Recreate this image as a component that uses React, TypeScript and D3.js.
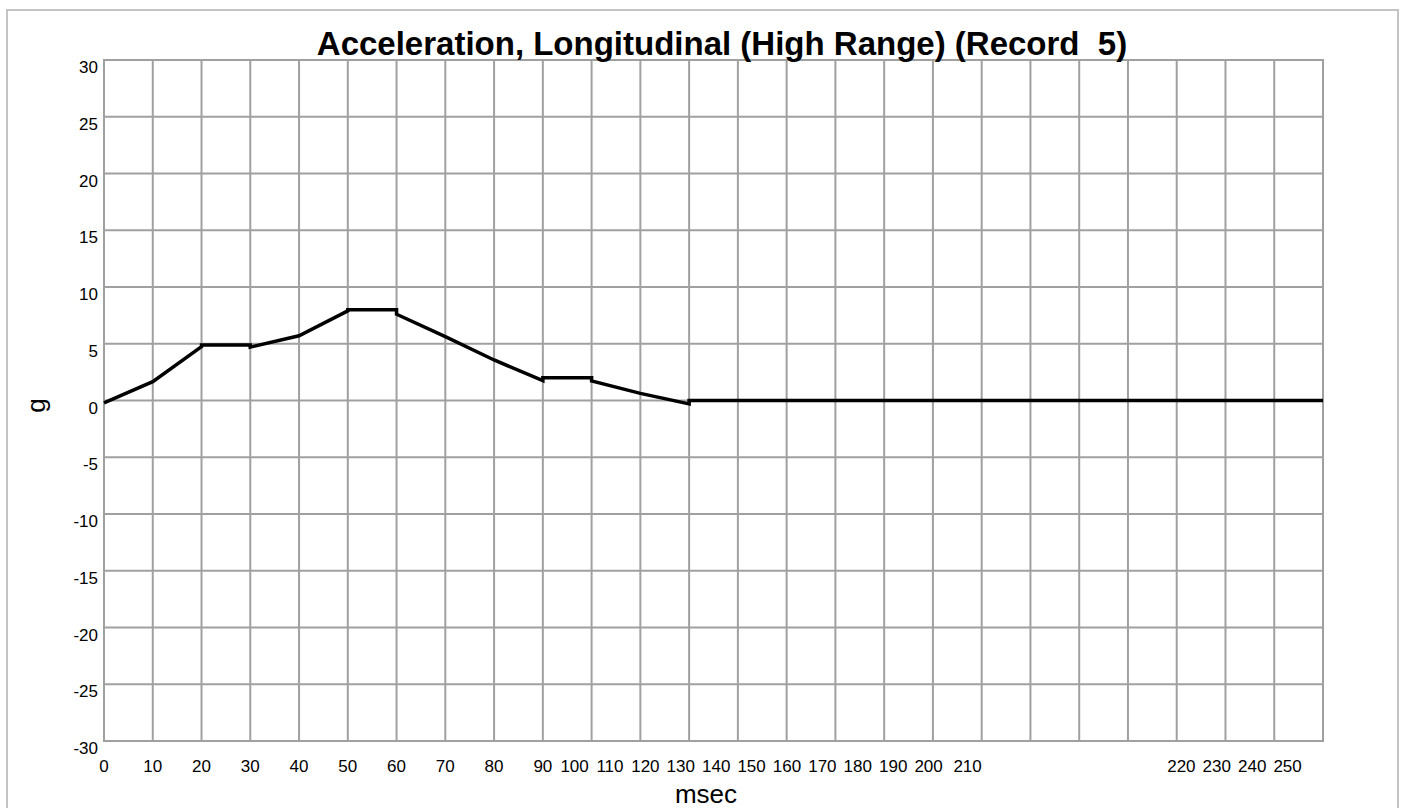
import React from "react";
import * as d3 from "d3";

// Longitudinal acceleration samples (msec, g). Repeated times mark the small
// level jumps where a flat hold meets the neighbouring ramp.
const timeMs = [0, 10, 20, 20, 30, 30, 40, 50, 50, 60, 60, 70, 80, 90, 90, 100, 100, 110, 120, 120, 250];
const accelG = [-0.2, 1.66, 4.75, 4.9, 4.9, 4.7, 5.7, 7.9, 8.0, 8.0, 7.6, 5.63, 3.57, 1.75, 2.0, 2.0, 1.72, 0.63, -0.3, 0, 0];

const xTickValues = d3.range(0, 251, 10);
const xTickLabels = xTickValues.map(String);
const yTickValues = d3.range(-30, 31, 5);
const yTickLabels = yTickValues.map(String);

const TITLE = "Acceleration, Longitudinal (High Range) (Record  5)";
const X_TITLE = "msec";
const Y_TITLE = "g";

const W = 1407;
const H = 808;
const plot = { left: 104, right: 1323, top: 60, bottom: 741 };
const FONT = "'Liberation Sans', Arial, Helvetica, sans-serif";
const GRID = "#a0a0a0";
const TICK_FONT = 17;

// Label pitch when tick labels are laid out as a packed run of text.
const PITCH = 35.4;

export default function App() {
  const x = d3.scaleLinear().domain([0, 250]).range([plot.left, plot.right]);
  const y = d3.scaleLinear().domain([-30, 30]).range([plot.bottom, plot.top]);

  const pts: [number, number][] = timeMs.map((t, i) => [t, accelG[i]]);
  const line = d3
    .line<[number, number]>()
    .x((d) => x(d[0]))
    .y((d) => y(d[1]));

  // x tick label placement: the first labels sit under their grid lines,
  // 100..210 follow "90" as a packed run, and the last four end near the right edge.
  const labelX = (i: number) => {
    if (i <= 9) return x(xTickValues[i]);
    if (i <= 21) {
      const base = x(90) + 31.75 + (i - 10) * PITCH;
      return i === 21 ? base + 3.6 : base;
    }
    return x(250) - (26 - i) * PITCH;
  };

  return (
    <svg
      width={W}
      height={H}
      style={{ position: "absolute", left: 0, top: 0, background: "#fff" }}
      fontFamily={FONT}
    >
      <rect x={7} y={10} width={1391} height={830} fill="#fff" stroke="#c4c4c4" strokeWidth={2} />

      {/* grid */}
      {xTickValues.map((v) => (
        <line key={"gx" + v} x1={x(v)} x2={x(v)} y1={plot.top} y2={plot.bottom} stroke={GRID} strokeWidth={2} />
      ))}
      {yTickValues.map((v) => (
        <line key={"gy" + v} x1={plot.left} x2={plot.right} y1={y(v)} y2={y(v)} stroke={GRID} strokeWidth={2} />
      ))}
      <rect
        x={plot.left}
        y={plot.top}
        width={plot.right - plot.left}
        height={plot.bottom - plot.top}
        fill="none"
        stroke={GRID}
        strokeWidth={2}
      />

      {/* data */}
      <path d={line(pts) || ""} fill="none" stroke="#000" strokeWidth={3.5} strokeLinejoin="miter" />

      {/* y tick labels */}
      {yTickValues.map((v, i) => (
        <text key={"ty" + v} x={98} y={y(v) + 13} textAnchor="end" fontSize={TICK_FONT} fill="#000">
          {yTickLabels[i]}
        </text>
      ))}

      {/* x tick labels */}
      {xTickValues.map((v, i) => (
        <text key={"tx" + v} x={labelX(i)} y={771.5} textAnchor="middle" fontSize={TICK_FONT} fill="#000">
          {xTickLabels[i]}
        </text>
      ))}

      <text
        x={722}
        y={55}
        textAnchor="middle"
        fontSize={33}
        fontWeight="bold"
        fill="#000"
        style={{ whiteSpace: "pre" }}
      >
        {TITLE}
      </text>
      <text x={706} y={803} textAnchor="middle" fontSize={26} fill="#000">
        {X_TITLE}
      </text>
      <text
        transform={`translate(45, ${(plot.top + plot.bottom) / 2 + 5}) rotate(-90)`}
        textAnchor="middle"
        fontSize={26}
        fill="#000"
      >
        {Y_TITLE}
      </text>
    </svg>
  );
}
